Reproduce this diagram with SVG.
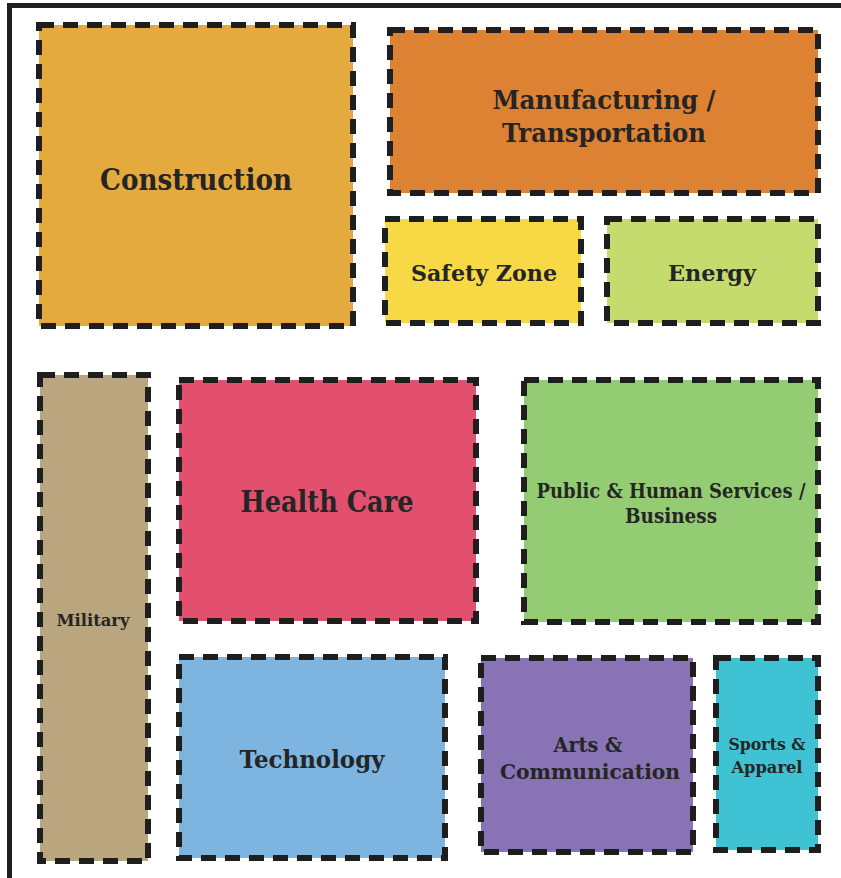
<svg xmlns="http://www.w3.org/2000/svg" width="841" height="878" viewBox="0 0 841 878">
<style>
.box{stroke:#1e1e1e;stroke-width:6;stroke-dasharray:15 9}
.t{font-family:"DejaVu Serif","Liberation Serif",serif;font-weight:bold;fill:#252525;text-anchor:middle}
</style>
<rect width="841" height="878" fill="#ffffff"/>
<path d="M9.5 878 V5.5 H841" fill="none" stroke="#1e1e1e" stroke-width="5"/>
<g id="construction">
<rect class="box" x="39" y="25" width="314" height="301" fill="#E5AA3E"/>
<text class="t" x="196" y="190" font-size="29" textLength="192" lengthAdjust="spacingAndGlyphs">Construction</text>
</g>
<g id="manufacturing">
<rect class="box" x="390" y="30" width="428" height="163" fill="#DD8133"/>
<text class="t" x="604" y="109" font-size="26" textLength="223" lengthAdjust="spacingAndGlyphs">Manufacturing /</text>
<text class="t" x="604" y="142" font-size="26" textLength="204" lengthAdjust="spacingAndGlyphs">Transportation</text>
</g>
<g id="safety-zone">
<rect class="box" x="385" y="219" width="196" height="104" fill="#F7D845"/>
<text class="t" x="484" y="281" font-size="22" textLength="146" lengthAdjust="spacingAndGlyphs">Safety Zone</text>
</g>
<g id="energy">
<rect class="box" x="607" y="219" width="211" height="104" fill="#C6DB6E"/>
<text class="t" x="712" y="281" font-size="23" textLength="88" lengthAdjust="spacingAndGlyphs">Energy</text>
</g>
<g id="military">
<rect class="box" x="40" y="375" width="108" height="486" fill="#B9A57E"/>
<text class="t" x="93" y="626" font-size="17" textLength="73" lengthAdjust="spacingAndGlyphs">Military</text>
</g>
<g id="health-care">
<rect class="box" x="179" y="380" width="297" height="241" fill="#E2506E"/>
<text class="t" x="327" y="512" font-size="29" textLength="173" lengthAdjust="spacingAndGlyphs">Health Care</text>
</g>
<g id="public-human-services">
<rect class="box" x="524" y="380" width="294" height="242" fill="#94CC74"/>
<text class="t" x="671" y="498" font-size="20" textLength="269" lengthAdjust="spacingAndGlyphs">Public &amp; Human Services /</text>
<text class="t" x="671" y="523" font-size="20" textLength="92" lengthAdjust="spacingAndGlyphs">Business</text>
</g>
<g id="technology">
<rect class="box" x="179" y="657" width="266" height="201" fill="#7DB4E0"/>
<text class="t" x="312" y="768" font-size="24" textLength="145" lengthAdjust="spacingAndGlyphs">Technology</text>
</g>
<g id="arts-communication">
<rect class="box" x="481" y="658" width="212" height="194" fill="#8874B5"/>
<text class="t" x="588" y="752" font-size="21" textLength="69" lengthAdjust="spacingAndGlyphs">Arts &amp;</text>
<text class="t" x="590" y="779" font-size="21" textLength="180" lengthAdjust="spacingAndGlyphs">Communication</text>
</g>
<g id="sports-apparel">
<rect class="box" x="716" y="658" width="102" height="192" fill="#3EC2D4"/>
<text class="t" x="767" y="750" font-size="17" textLength="77" lengthAdjust="spacingAndGlyphs">Sports &amp;</text>
<text class="t" x="767" y="773" font-size="17" textLength="71" lengthAdjust="spacingAndGlyphs">Apparel</text>
</g>
<g id="connectors"></g>
</svg>
